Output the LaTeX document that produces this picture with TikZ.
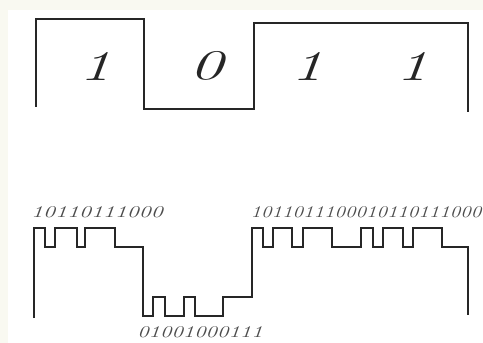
\documentclass[tikz,border=0pt]{standalone}
\usepackage{amsmath,amssymb}
\usepackage{tikz}

\definecolor{paper}{RGB}{249,249,241}

\begin{document}
\begin{tikzpicture}[
    x=0.03cm, y=-0.03cm,
    wave/.style={line width=1.4pt,draw=black!85,line join=miter},
    digit/.style={inner sep=0pt,font=\fontsize{36}{36}\selectfont\itshape,text=black!85},
    bits/.style={inner sep=0pt,font=\fontsize{14}{14}\selectfont\itshape,text=black!70}
]
    \useasboundingbox (0,0) rectangle (483,343);
    \fill[white] (0,0) rectangle (483,343);
    \fill[paper] (0,0) rectangle (483,10);
    \fill[paper] (0,0) rectangle (8,343);

    % the four data bits
    \draw[wave] (36,107) -- (36,19) -- (144,19) -- (144,109) -- (254,109)
        -- (254,23) -- (468,23) -- (468,112);

    \node[digit] (d1) at (95,66) {\scalebox{1.5}[1]{1}};
    \node[digit] (d2) at (206,66) {\scalebox{1.6}[1]{0}};
    \node[digit] (d3) at (307,66) {\scalebox{1.5}[1]{1}};
    \node[digit] (d4) at (412,66) {\scalebox{1.5}[1]{1}};

    % the coded signal
    \draw[wave] (34,318) -- (34,228) -- (45,228) -- (45,247) -- (55,247)
        -- (55,228) -- (77,228) -- (77,247) -- (85,247) -- (85,228)
        -- (115,228) -- (115,247) -- (143,247) -- (143,316)
        -- (153,316) -- (153,297) -- (165,297) -- (165,316) -- (184,316)
        -- (184,297) -- (195,297) -- (195,316) -- (223,316) -- (223,297)
        -- (252,297) -- (252,228)
        -- (263,228) -- (263,247) -- (273,247) -- (273,228) -- (292,228)
        -- (292,247) -- (303,247) -- (303,228) -- (332,228) -- (332,247)
        -- (361,247) -- (361,228) -- (373,228) -- (373,247) -- (383,247)
        -- (383,228) -- (403,228) -- (403,247) -- (413,247) -- (413,228)
        -- (442,228) -- (442,247) -- (468,247) -- (468,315);

    \node[bits] (codeA) at (97,212) {\scalebox{1.46}[1]{10110111000}};
    \node[bits] (codeB) at (200,332) {\scalebox{1.39}[1]{01001000111}};
    \node[bits] (codeC) at (366,212) {\scalebox{1.28}[1]{1011011100010110111000}};
\end{tikzpicture}
\end{document}
